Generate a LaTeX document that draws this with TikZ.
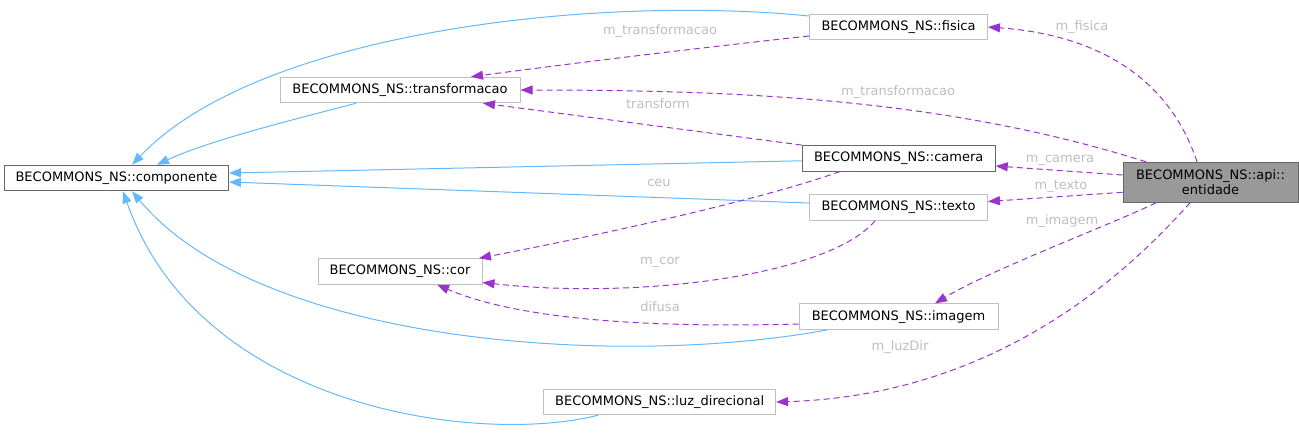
\documentclass[tikz,border=0pt]{standalone}
\usepackage{fontspec}
\setmainfont{DejaVu Sans}
\usetikzlibrary{arrows.meta}
\definecolor{blueher}{HTML}{63B8FF}
\definecolor{viola}{HTML}{9A32CD}
\definecolor{grigiolbl}{HTML}{BEBEBE}
\definecolor{grigiobordo}{HTML}{BFBFBF}
\definecolor{grigioscuro}{HTML}{666666}
\definecolor{grigiofill}{HTML}{999999}
\tikzset{
  classe/.style={draw=grigiobordo,line width=1pt,fill=white,minimum height=25.5pt,inner sep=0pt,font=\fontsize{13}{15}\selectfont},
  classedoc/.style={classe,draw=grigioscuro},
  classeatt/.style={classe,draw=grigioscuro,fill=grigiofill,minimum height=40pt,align=center},
  eredita/.style={draw=blueher,line width=1pt,-{Triangle[length=12pt,width=9pt]}},
  membro/.style={draw=viola,line width=1pt,dash pattern=on 6pt off 4pt,-{Triangle[length=12pt,width=9pt]}},
  etichetta/.style={text=grigiolbl,inner sep=0pt,font=\fontsize{13}{15}\selectfont}
}
\begin{document}
\begin{tikzpicture}[x=1pt,y=-1pt]
        \useasboundingbox (0,0) rectangle (1299,432);
        %classi
        \node[classedoc,minimum width=224pt] (componente) at (116.5,178) {BECOMMONS\_NS::componente};
        \node[classe,minimum width=240pt] (transformacao) at (400,90) {BECOMMONS\_NS::transformacao};
        \node[classe,minimum width=178pt] (fisica) at (898.5,27) {BECOMMONS\_NS::fisica};
        \node[classedoc,minimum width=193pt] (camera) at (898.7,158.3) {BECOMMONS\_NS::camera};
        \node[classe,minimum width=178pt] (texto) at (898.5,207.5) {BECOMMONS\_NS::texto};
        \node[classe,minimum width=164pt] (cor) at (400,271.5) {BECOMMONS\_NS::cor};
        \node[classe,minimum width=199pt] (imagem) at (898.5,316.7) {BECOMMONS\_NS::imagem};
        \node[classe,minimum width=232pt] (luz) at (659.6,402) {BECOMMONS\_NS::luz\_direcional};
        \node[classeatt,minimum width=175pt] (entidade) at (1210.5,182.3) {BECOMMONS\_NS::api::\\entidade};
        %ereditarieta
        \draw[eredita] ([yshift=11pt]fisica.west) .. controls (600,-5) and (260,30) .. ([xshift=15.5pt]componente.north);
        \draw[eredita] ([xshift=-44pt]transformacao.south) .. controls (300,118) and (210,140) .. ([xshift=40.5pt]componente.north);
        \draw[eredita] ([yshift=-2.5pt]camera.west) -- ([yshift=5pt]componente.east);
        \draw[eredita] ([yshift=4.5pt]texto.west) -- ([yshift=-4pt]componente.east);
        \draw[eredita] ([xshift=-71.5pt]imagem.south) .. controls (620,368) and (260,345) .. ([xshift=15.5pt]componente.south);
        \draw[eredita] ([xshift=-61.6pt]luz.south) .. controls (480,445) and (200,410) .. ([xshift=6.5pt]componente.south);
        %membri di entidade
        \draw[membro] ([xshift=-13.5pt]entidade.north) .. controls (1170,80) and (1100,35) .. (fisica.east);
        \draw[membro] ([xshift=-64.5pt]entidade.north) .. controls (950,100) and (750,90) .. (transformacao.east);
        \draw[membro] ([yshift=7.3pt]entidade.west) -- ([yshift=-7.7pt]camera.east);
        \draw[membro] ([yshift=-10pt]entidade.west) -- ([yshift=6pt]texto.east);
        \draw[membro] ([xshift=-54.5pt]entidade.south) .. controls (1110,225) and (990,270) .. ([xshift=36.5pt]imagem.north);
        \draw[membro] ([xshift=-20.5pt]entidade.south) .. controls (1130,270) and (1000,395) .. (luz.east);
        %altri membri
        \draw[membro] ([yshift=-9pt]fisica.west) .. controls (680,50) and (560,65) .. ([xshift=71pt]transformacao.north);
        \draw[membro] (camera.north west) -- ([xshift=83pt]transformacao.south);
        \draw[membro] ([xshift=-58.7pt]camera.south) .. controls (760,200) and (600,235) .. ([xshift=79pt]cor.north);
        \draw[membro] ([xshift=-23.5pt]texto.south) .. controls (830,275) and (640,300) .. ([yshift=-11pt]cor.east);
        \draw[membro] ([yshift=-7.3pt]imagem.west) .. controls (650,328) and (520,320) .. ([xshift=37pt]cor.south);
        %etichette
        \node[etichetta] (lfisica) at (1082,27) {m\_fisica};
        \node[etichetta] (ltrasf1) at (660,31) {m\_transformacao};
        \node[etichetta] (ltrasf2) at (898,92) {m\_transformacao};
        \node[etichetta] (ltransform) at (658,104) {transform};
        \node[etichetta] (lcamera) at (1060,160) {m\_camera};
        \node[etichetta] (lceu) at (659,183) {ceu};
        \node[etichetta] (ltexto) at (1061,186) {m\_texto};
        \node[etichetta] (limagem) at (1062,221) {m\_imagem};
        \node[etichetta] (lcor) at (660,262) {m\_cor};
        \node[etichetta] (ldifusa) at (660,307) {difusa};
        \node[etichetta] (lluz) at (900,347) {m\_luzDir};
    \end{tikzpicture}
\end{document}
